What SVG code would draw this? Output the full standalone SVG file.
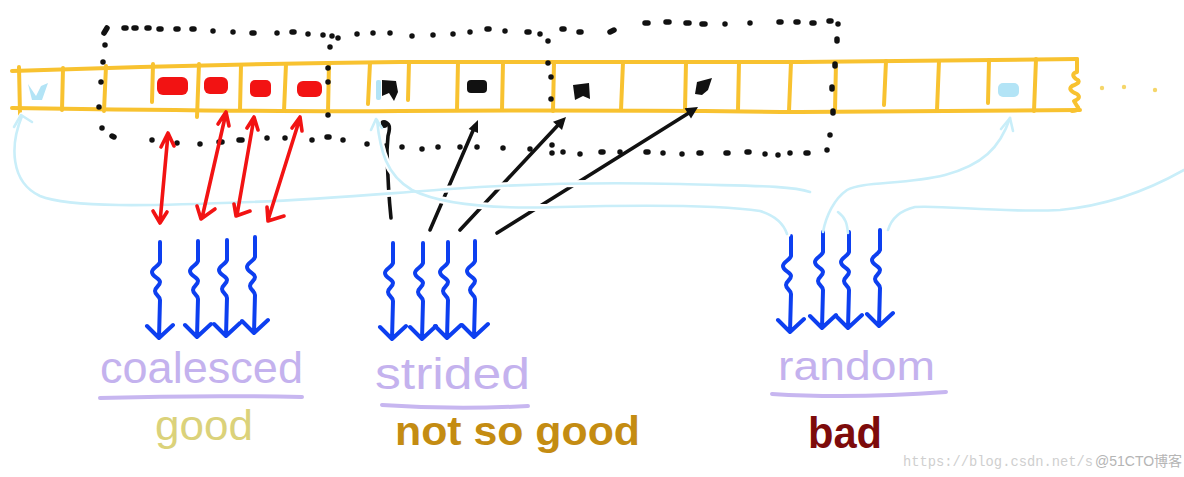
<svg xmlns="http://www.w3.org/2000/svg" width="1184" height="477" viewBox="0 0 1184 477">
<style>
.strip{fill:none;stroke:#f8c230;stroke-width:4;stroke-linecap:round;stroke-linejoin:round}
.dots{fill:none;stroke:#111;stroke-width:5.5;stroke-linecap:round}
.lb{fill:none;stroke:#c9eef9;stroke-width:2.6;stroke-linecap:round;stroke-linejoin:round}
.lbhalo{fill:none;stroke:#fff;stroke-width:7;stroke-linecap:round}
.red{fill:none;stroke:#f21313;stroke-width:3.6;stroke-linecap:round;stroke-linejoin:round}
.blk{fill:none;stroke:#111;stroke-width:3.6;stroke-linecap:round;stroke-linejoin:round}
.blue{fill:none;stroke:#0d3ff0;stroke-width:4;stroke-linecap:round;stroke-linejoin:round}
.uline{fill:none;stroke:#c7b6f0;stroke-width:4;stroke-linecap:round}
.hand{font-family:"Liberation Sans","DejaVu Sans",sans-serif}
.lav{fill:#c4b2ee}
</style>
<defs>
<path id="wave" class="blue" d="M0,0 L0,20 C-1,24 -8,26 -8,30 C-8,35 0,36 0,40 C0,44 -5,45 -5,49 C-5,53 0,54 0,58 L-1,96 M-13,84 L-1,96 L13,83"/>
</defs>
<rect width="1184" height="477" fill="#fff"/>

<!-- memory strip -->
<g id="memory">
<path class="strip" d="M12,71 C150,66 300,63 400,62 C560,61 700,62 800,62 C900,61 1000,59 1077,59"/>
<path class="strip" d="M12,108 C150,110 300,112 400,111 C560,110 700,111 800,112 C900,111 1000,111 1080,110"/>
<path class="strip" d="M19,67 L20,114 M63,68 L62,110 M106,66 L104,111 M153,64 L152,102 M199,64 L197,117 M241,65 L240,110 M286,64 L284,111 M329,63 L328,112 M370,63 L368,104 M409,62 L408,100 M458,62 L457,110 M503,62 L502,110 M554,62 L553,111 M623,62 L621,110 M686,62 L685,110 M739,62 L738,110 M791,62 L789,111 M836,62 L835,111 M886,61 L884,105 M939,61 L937,110 M989,60 L988,103 M1036,59 L1034,111"/>
<path class="strip" d="M1077,59 L1077,72 Q1070,74 1076,79 Q1083,82 1072,86 Q1067,90 1077,94 Q1082,98 1074,101 L1077,106 Q1081,110 1072,111"/>
<g fill="#f5d66a"><circle cx="1102" cy="88" r="2.2"/><circle cx="1124" cy="87" r="2.2"/><circle cx="1155" cy="90" r="2.2"/></g>
<!-- coalesced (red) -->
<g fill="#f21313">
<rect x="157" y="77" width="31" height="18" rx="6"/>
<rect x="204" y="77" width="24" height="17" rx="6"/>
<rect x="250" y="80" width="21" height="17" rx="5"/>
<rect x="297" y="81" width="25" height="16" rx="6"/>
</g>
<!-- strided (black) -->
<g fill="#111">
<path d="M382,80 L396,81 L398,92 L394,101 L389,93 L382,96 Z"/>
<rect x="467" y="80" width="20" height="13" rx="4"/>
<path d="M573,85 L589,83 L590,99 L583,96 L575,100 Z"/>
<path d="M697,82 L712,78 L708,90 L702,95 L695,94 Z"/>
</g>
<!-- random (light blue) -->
<g fill="#b3e4f6">
<path d="M28,84 L36,96 L41,86 L48,83 L42,100 L32,100 Z"/>
<rect x="376" y="80" width="5" height="20" rx="2"/>
<rect x="998" y="83" width="21" height="14" rx="5"/>
</g>
</g>

<!-- dotted access windows -->
<g id="windows">
<path class="dots" d="M104,33 l3,-5 M124,28 h2 M134,28 h2 M147,28 h2 M159,29 h2 M176,29 h2 M192,29 h2 M213,31 h0 M233,32 h0 M252,33 h2 M277,33 h0 M292,32 h2 M308,34 h0 M323,35 h0 M332,36 h0 M338,38 h0 M357,34 h0 M373,33 h0 M390,33 h0 M412,36 h0 M433,35 h0 M453,34 h0 M470,32 h0 M487,29 h2 M505,31 h0 M527,32 h2 M540,34 h0 M548,41 h0 M562,29 h2 M579,32 h2 M610,32 l4,-2 M645,23 h3 M666,22 h3 M686,23 h3 M702,24 h3 M725,24 h0 M750,23 h0 M779,22 h2 M796,22 h2 M812,23 h2 M829,21 h2 M838,24 h0
M105,45 v0 M103,62 v0 M101,82 v0 M99,107 v0 M102,128 v0 M112,136 l2,1
M330,47 v0 M328,68 v0 M328,82 v0 M328,115 v0
M548,63 v0 M551,77 v0 M551,99 v0 M552,145 v0
M837,39 v2 M835,64 v2 M832,87 v2 M833,111 v2 M830,135 v0
M152,140 h0 M177,143 h0 M200,144 h0 M219,142 h3 M239,140 h3 M267,138 h0 M285,138 h0 M312,140 h0 M327,137 h2 M343,140 h0 M367,144 h0 M386,146 h0 M402,147 h0 M422,149 h0 M438,147 h0 M460,147 h0 M477,147 h0 M503,148 h0 M530,149 h0 M552,153 h0 M563,152 h0 M580,154 h0 M601,152 h2 M620,152 h0 M646,152 h2 M663,153 h0 M682,154 h0 M699,153 h2 M726,153 h2 M747,152 h2 M765,154 h0 M778,155 h0 M790,153 h0 M806,153 h2 M827,150 h0"/>
</g>

<!-- threads -->
<g id="threads-coalesced">
<use href="#wave" x="160" y="242"/>
<use href="#wave" x="198" y="241"/>
<use href="#wave" x="227" y="240"/>
<use href="#wave" x="255" y="237"/>
</g>
<g id="threads-strided">
<use href="#wave" x="393" y="243"/>
<use href="#wave" x="423" y="243"/>
<use href="#wave" x="448" y="242"/>
<use href="#wave" x="475" y="241"/>
</g>
<g id="threads-random">
<use href="#wave" x="791" y="238" transform="translate(0,-2)"/>
<use href="#wave" x="823" y="238" transform="translate(0,-6)"/>
<use href="#wave" x="849" y="238" transform="translate(0,-6)"/>
<use href="#wave" x="880" y="236" transform="translate(0,-6)"/>
</g>

<!-- connectors -->
<g id="connectors">
<g id="strided-links">
<path class="blk" d="M380,124 Q393,119 388,136 L387,150 Q388,190 391,218"/>
<circle cx="384" cy="124" r="4" fill="#111"/>
<path class="blk" d="M430,230 L475,126"/>
<polygon points="478,120 478,133 468.6,129" fill="#111"/>
<path class="blk" d="M460,230 L560,123"/>
<polygon points="566,117 562,130 553,121.7" fill="#111"/>
<path class="blk" d="M497,233 L692,111"/>
<polygon points="698,107 691,118.5 684.6,108.3" fill="#111"/>
</g>
<g id="random-links">
<path class="lbhalo" d="M22,116 C10,145 10,182 40,196 C70,208 150,206 250,202 C330,199 390,193 450,189 C520,184 600,182 680,184 C740,186 790,185 810,192"/>
<path class="lbhalo" d="M377,120 C380,150 386,175 412,190 C442,205 500,209 560,207 C640,205 720,205 760,211 C776,216 784,225 787,234"/>
<path class="lb" d="M22,116 C10,145 10,182 40,196 C70,208 150,206 250,202 C330,199 390,193 450,189 C520,184 600,182 680,184 C740,186 790,185 810,192"/>
<path class="lb" d="M14,127 L21,115 L32,122"/>
<path class="lb" d="M377,120 C380,150 386,175 412,190 C442,205 500,209 560,207 C640,205 720,205 760,211 C776,216 784,225 787,234"/>
<path class="lb" d="M371,130 L376,119 L382,128"/>
<path class="lb" d="M1010,118 C1000,148 982,165 945,175 C905,185 862,181 847,190 C834,199 826,216 823,232"/>
<path class="lb" d="M1001,129 L1010,118 L1013,131"/>
<path class="lb" d="M848,233 C847,224 846,218 838,212"/>
<path class="lb" d="M1184,170 C1145,192 1105,206 1060,210 C1000,213 945,205 915,207 C898,211 891,220 888,230"/>
</g>
<g id="coalesced-links">
<path class="red" d="M160,222 L168,134 M161,147 L168,133 L174,146 M153,211 L160,223 L167,212"/>
<path class="red" d="M202,218 L226,113 M218,124 L226,112 L229,126 M197,206 L201,219 L215,209"/>
<path class="red" d="M237,215 L254,118 M247,128 L254,117 L258,130 M234,204 L236,216 L250,211"/>
<path class="red" d="M268,220 L300,118 M292,128 L300,117 L302,131 M267,207 L268,221 L284,216"/>
</g>
</g>

<!-- labels -->
<g id="label-coalesced">
<text class="hand lav" x="100" y="383" font-size="44" textLength="203" lengthAdjust="spacingAndGlyphs">coalesced</text>
<path class="uline" d="M100,398 Q200,395 302,397"/>
<text class="hand" x="155" y="440" font-size="42" fill="#dbd27a" textLength="98" lengthAdjust="spacingAndGlyphs">good</text>
</g>
<g id="label-strided">
<text class="hand lav" x="375" y="389" font-size="44" textLength="155" lengthAdjust="spacingAndGlyphs">strided</text>
<path class="uline" d="M382,405 Q455,410 528,406"/>
<text class="hand" x="395" y="445" font-size="40" font-weight="bold" fill="#c48c12" textLength="245" lengthAdjust="spacingAndGlyphs">not so good</text>
</g>
<g id="label-random">
<text class="hand lav" x="778" y="380" font-size="40" textLength="157" lengthAdjust="spacingAndGlyphs">random</text>
<path class="uline" d="M772,394 Q850,399 946,392"/>
<text class="hand" x="808" y="448" font-size="44" font-weight="bold" fill="#7d0b0b" textLength="74" lengthAdjust="spacingAndGlyphs">bad</text>
</g>
<g id="watermark">
<text x="903" y="466" font-family="'Liberation Mono',monospace" font-size="14" fill="#cfcfcf" textLength="190" lengthAdjust="spacingAndGlyphs">https://blog.csdn.net/s</text>
<text x="1095" y="466" font-family="'Liberation Sans','Noto Sans CJK SC',sans-serif" font-size="14" fill="#b5b5b5">@51CTO博客</text>
</g>
</svg>
